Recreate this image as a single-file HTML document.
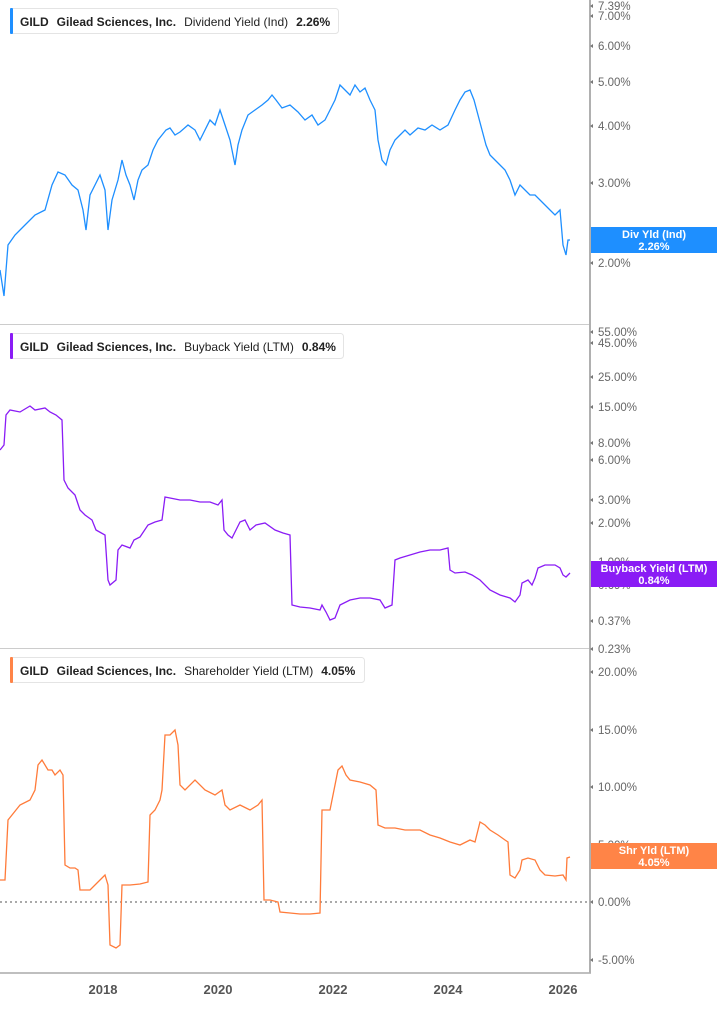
<!DOCTYPE html>
<html><head><meta charset="utf-8"><style>
body{margin:0;background:#fff;font-family:"Liberation Sans",sans-serif}
svg text{font-family:"Liberation Sans",sans-serif}
</style></head><body>
<svg width="717" height="1005" viewBox="0 0 717 1005" xmlns="http://www.w3.org/2000/svg">
<rect width="717" height="1005" fill="#fff"/>
<line x1="0" y1="324.5" x2="590" y2="324.5" stroke="#ccc"/>
<line x1="0" y1="648.5" x2="590" y2="648.5" stroke="#ccc"/>
<line x1="0" y1="973" x2="591" y2="973" stroke="#aaa" stroke-width="1.5"/>
<line x1="590" y1="0" x2="590" y2="973" stroke="#b0b0b0" stroke-width="2"/>
<line x1="0" y1="902" x2="590" y2="902" stroke="#555" stroke-dasharray="2,3"/>
<g font-size="11.5" fill="#666">
<text x="598" y="10">7.39%</text><text x="598" y="20">7.00%</text><text x="598" y="50">6.00%</text>
<text x="598" y="86">5.00%</text><text x="598" y="130">4.00%</text><text x="598" y="187">3.00%</text>
<text x="598" y="267">2.00%</text>
<text x="598" y="336">55.00%</text><text x="598" y="347">45.00%</text><text x="598" y="381">25.00%</text>
<text x="598" y="411">15.00%</text><text x="598" y="447">8.00%</text><text x="598" y="464">6.00%</text>
<text x="598" y="504">3.00%</text><text x="598" y="527">2.00%</text><text x="598" y="566">1.00%</text>
<text x="598" y="589">0.69%</text><text x="598" y="625">0.37%</text><text x="598" y="653">0.23%</text>
<text x="598" y="676">20.00%</text><text x="598" y="734">15.00%</text><text x="598" y="791">10.00%</text>
<text x="598" y="849">5.00%</text><text x="598" y="906">0.00%</text><text x="598" y="964">-5.00%</text>
</g>
<g fill="#777">
<path d="M590 6l3 -2v4zM590 16l3 -2v4zM590 46l3 -2v4zM590 82l3 -2v4zM590 126l3 -2v4zM590 183l3 -2v4zM590 263l3 -2v4zM590 332l3 -2v4zM590 343l3 -2v4zM590 377l3 -2v4zM590 407l3 -2v4zM590 443l3 -2v4zM590 460l3 -2v4zM590 500l3 -2v4zM590 523l3 -2v4zM590 621l3 -2v4zM590 649l3 -2v4zM590 672l3 -2v4zM590 730l3 -2v4zM590 787l3 -2v4zM590 902l3 -2v4zM590 960l3 -2v4z"/>
</g>
<g font-size="13" font-weight="bold" fill="#555" text-anchor="middle">
<text x="103" y="994">2018</text><text x="218" y="994">2020</text><text x="333" y="994">2022</text>
<text x="448" y="994">2024</text><text x="563" y="994">2026</text>
</g>
<polyline fill="none" stroke="#1e8fff" stroke-width="1.3" points="0,270 4,296 8,245 15,235 25,225 35,215 45,210 52,185 58,172 65,175 72,185 78,190 83,210 86,230 90,195 95,185 100,175 105,190 108,230 112,200 118,180 122,160 126,175 130,185 134,200 138,180 142,170 148,165 153,150 158,140 162,135 166,130 170,128 175,135 180,132 188,125 195,130 200,140 205,130 210,120 215,125 220,110 225,125 230,140 235,165 238,145 242,130 248,115 255,110 262,105 268,100 272,95 276,100 282,108 290,105 298,112 305,120 312,115 318,125 325,120 330,110 335,100 340,85 345,90 350,95 355,85 360,92 365,88 370,100 375,110 378,140 382,160 386,165 390,150 395,140 400,135 405,130 410,135 418,128 425,130 432,125 440,130 448,125 455,110 460,100 465,92 470,90 474,100 478,115 482,130 486,145 490,155 495,160 500,165 505,170 510,180 515,195 520,185 525,190 530,195 535,195 540,200 545,205 550,210 555,215 560,210 563,245 566,255 568,240 570,240"/>
<polyline fill="none" stroke="#8a1cf5" stroke-width="1.3" points="0,450 4,445 6,415 10,410 20,412 30,406 35,410 45,408 50,412 56,415 62,420 64,480 68,488 75,495 80,510 85,515 92,520 96,530 105,535 108,580 110,585 116,580 118,550 122,545 130,548 134,540 140,537 148,525 155,522 162,520 165,497 170,498 180,500 190,500 200,502 210,502 218,505 222,500 224,530 228,535 232,538 236,530 240,522 245,520 250,530 256,525 265,523 275,530 283,533 290,535 292,605 300,607 310,608 320,610 322,605 326,612 330,620 335,618 340,605 350,600 360,598 370,598 380,600 385,608 392,605 395,560 400,558 410,555 420,552 430,550 440,550 448,548 450,570 455,573 465,572 472,575 480,580 490,590 500,595 510,598 515,602 520,595 522,583 528,580 532,585 535,578 538,568 545,565 555,565 560,568 563,575 566,577 570,573"/>
<polyline fill="none" stroke="#ff7b3a" stroke-width="1.3" points="0,880 5,880 8,820 12,815 20,805 30,800 35,790 38,765 42,760 48,770 52,770 55,775 60,770 63,775 65,865 70,868 75,868 78,870 80,890 90,890 100,880 105,875 108,885 110,945 116,948 120,945 122,885 130,885 140,884 148,882 150,815 155,810 160,800 162,790 165,735 170,735 175,730 178,745 180,785 185,790 195,780 205,790 215,795 222,790 225,805 230,810 240,805 250,810 258,805 262,800 264,900 270,900 278,902 280,912 290,913 300,914 310,914 320,913 322,810 330,810 334,790 338,770 342,766 346,775 350,780 360,782 370,785 376,790 378,825 385,828 395,828 405,830 420,830 430,835 440,838 450,842 460,845 470,840 475,842 480,822 485,825 490,830 498,835 505,840 508,842 510,875 515,878 520,870 522,860 528,858 535,860 540,870 545,875 555,876 563,875 566,880 567,858 570,857"/>
<rect x="591" y="227" width="126" height="26" fill="#1e8fff"/>
<text x="654" y="238" font-size="11" font-weight="bold" fill="#fff" text-anchor="middle">Div Yld (Ind)</text>
<text x="654" y="250" font-size="11" font-weight="bold" fill="#fff" text-anchor="middle">2.26%</text>
<rect x="591" y="561" width="126" height="26" fill="#8a1cf5"/>
<text x="654" y="572" font-size="11" font-weight="bold" fill="#fff" text-anchor="middle">Buyback Yield (LTM)</text>
<text x="654" y="584" font-size="11" font-weight="bold" fill="#fff" text-anchor="middle">0.84%</text>
<rect x="591" y="843" width="126" height="26" fill="#ff8447"/>
<text x="654" y="854" font-size="11" font-weight="bold" fill="#fff" text-anchor="middle">Shr Yld (LTM)</text>
<text x="654" y="866" font-size="11" font-weight="bold" fill="#fff" text-anchor="middle">4.05%</text>
<g font-size="12" fill="#222">
<rect x="10.5" y="8.5" width="328" height="25" rx="3" fill="#fff" stroke="#e4e4e4"/>
<rect x="10" y="8" width="3" height="26" rx="1" fill="#1e8fff"/>
<text x="20" y="26"><tspan font-weight="bold">GILD</tspan><tspan dx="8" font-weight="bold">Gilead Sciences, Inc.</tspan><tspan dx="8">Dividend Yield (Ind)</tspan><tspan dx="8" font-weight="bold">2.26%</tspan></text>
<rect x="10.5" y="333.5" width="333" height="25" rx="3" fill="#fff" stroke="#e4e4e4"/>
<rect x="10" y="333" width="3" height="26" rx="1" fill="#8a1cf5"/>
<text x="20" y="351"><tspan font-weight="bold">GILD</tspan><tspan dx="8" font-weight="bold">Gilead Sciences, Inc.</tspan><tspan dx="8">Buyback Yield (LTM)</tspan><tspan dx="8" font-weight="bold">0.84%</tspan></text>
<rect x="10.5" y="657.5" width="354" height="25" rx="3" fill="#fff" stroke="#e4e4e4"/>
<rect x="10" y="657" width="3" height="26" rx="1" fill="#ff8447"/>
<text x="20" y="675"><tspan font-weight="bold">GILD</tspan><tspan dx="8" font-weight="bold">Gilead Sciences, Inc.</tspan><tspan dx="8">Shareholder Yield (LTM)</tspan><tspan dx="8" font-weight="bold">4.05%</tspan></text>
</g>
</svg>
</body></html>
